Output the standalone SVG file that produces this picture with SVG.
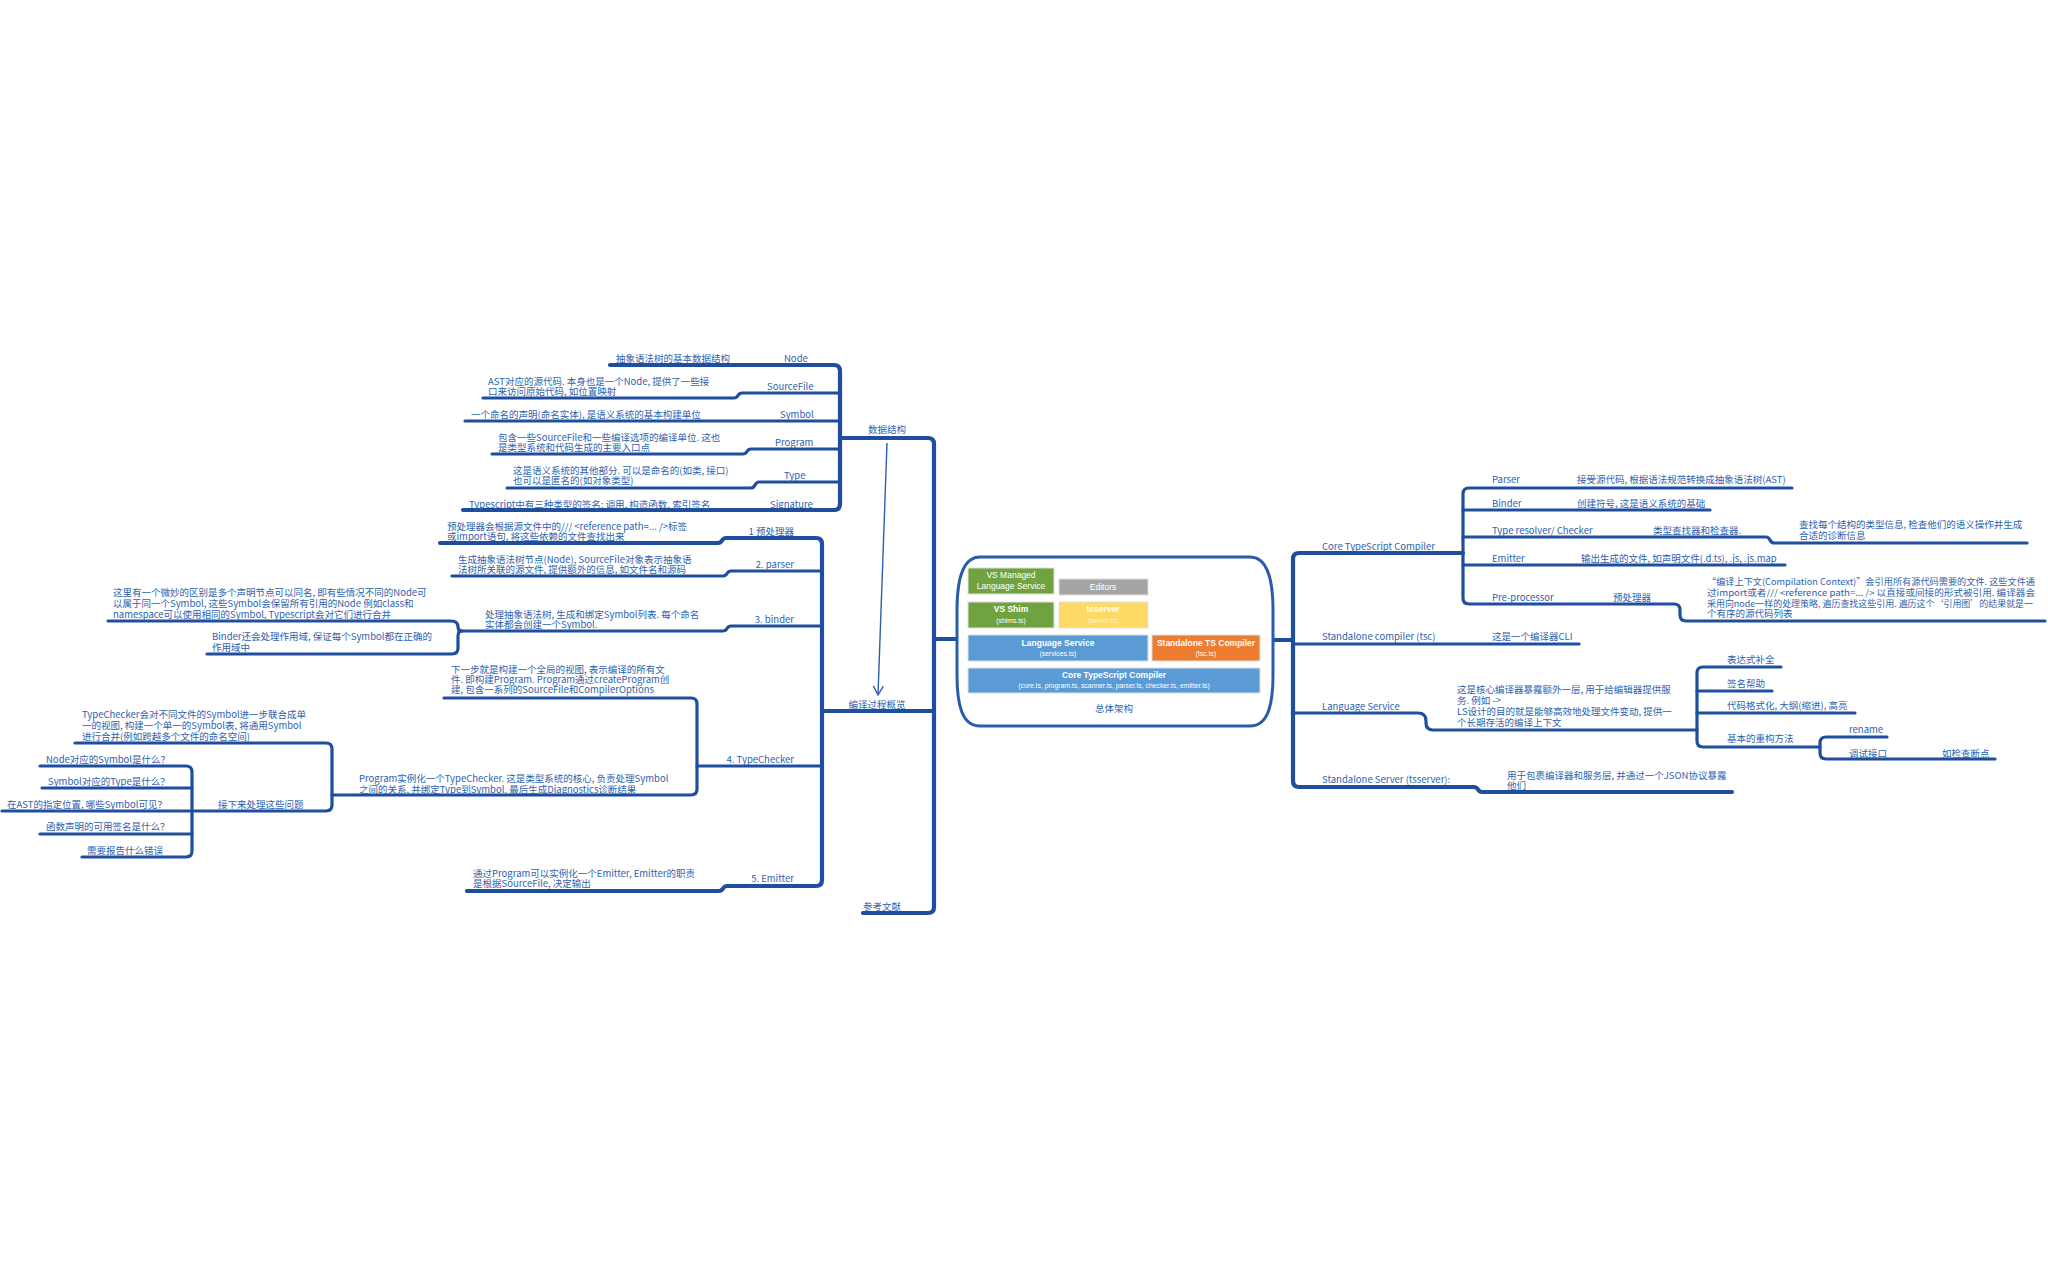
<svg xmlns="http://www.w3.org/2000/svg" width="2048" height="1266" viewBox="0 0 2048 1266">
<defs>
<style>
text{font-family:"Noto Sans CJK SC","Liberation Sans",sans-serif;font-size:9.5px;fill:#2d62ae}
.m{text-anchor:middle}
.e{text-anchor:end}
.sm{font-size:8.8px}
.ln{fill:none;stroke:#1f4e9e;stroke-width:3.2;stroke-linecap:round;stroke-linejoin:round}
.tk{stroke-width:4.2}
.bx text{font-family:"Liberation Sans","Open Sans",sans-serif;fill:#ffffff;text-anchor:middle;font-size:8.5px}
.bx .b{font-weight:bold}
.bx .s{font-size:6.8px}
.bx rect{stroke:#e0e0e0;stroke-width:1}
</style>
<marker id="arr" viewBox="0 0 12 12" refX="11" refY="6" markerWidth="12" markerHeight="12" markerUnits="userSpaceOnUse" orient="auto">
<path d="M2,1 L11,6 L2,11" fill="none" stroke="#2d5fae" stroke-width="1.4"/>
</marker>
</defs>
<rect width="2048" height="1266" fill="#ffffff"/>

<g id="connectors">
<path class="ln tk" d="M957,639 H934"/>
<path class="ln tk" d="M842,438 H928 Q934,438 934,444 V907 Q934,913 928,913 H863"/>
<path class="ln tk" d="M823,711 H934"/>
<path class="ln tk" d="M610,365 H834 Q840,365 840,371 V504 Q840,510 834,510 H463"/>
<path class="ln" d="M483,398 H734 C739,398 737,393 742,393 H840"/>
<path class="ln" d="M465,421 H840"/>
<path class="ln" d="M492,454 H743 C748,454 746,449 751,449 H840"/>
<path class="ln" d="M507,488 H751 C756,488 754,482 759,482 H840"/>
<path class="ln tk" d="M440,543 H718 C723,543 721,538 726,538 H816 Q822,538 822,544 V880 Q822,886 816,886 H727 C722,886 724,891 719,891 H467"/>
<path class="ln" d="M452,576 H723 C728,576 726,571 731,571 H822"/>
<path class="ln" d="M459,631 H723 C728,631 726,626 731,626 H822"/>
<path class="ln" d="M108,621 H451 Q458,621 458,627 Q458,631 462,631 Q458,631 458,636 V648 Q458,654 452,654 H207"/>
<path class="ln" d="M697,766 H822"/>
<path class="ln" d="M444,698 H691 Q697,698 697,704 V789 Q697,795 691,795 H332"/>
<path class="ln" d="M75,743 H326 Q332,743 332,749 V805 Q332,811 326,811 H2"/>
<path class="ln" d="M40,766 H186 Q192,766 192,772 V851 Q192,857 186,857 H82"/>
<path class="ln" d="M42,788 H192"/>
<path class="ln" d="M40,834 H192"/>
<path d="M887,443 L878,695" fill="none" stroke="#2d5fae" stroke-width="1.4" marker-end="url(#arr)"/>
<path class="ln tk" d="M1273,640 H1293"/>
<path class="ln tk" d="M1463,553 H1299 Q1293,553 1293,559 V781 Q1293,787 1299,787 H1474 C1479,787 1477,792 1482,792 H1732"/>
<path class="ln" d="M1293,644 H1579"/>
<path class="ln" d="M1293,713 H1418 Q1426,713 1426,721 V723 Q1426,730 1433,730 H1697"/>
<path class="ln" d="M1781,667 H1703 Q1697,667 1697,673 V741 Q1697,747 1703,747 H1820"/>
<path class="ln" d="M1697,691 H1772"/>
<path class="ln" d="M1697,713 H1855"/>
<path class="ln" d="M1887,737 H1826 Q1820,737 1820,743 V753 Q1820,759 1826,759 H1995"/>
<path class="ln" d="M1792,488 H1469 Q1463,488 1463,494 V598 Q1463,604 1469,604 H1674 Q1680,604 1680,610 V615 Q1680,621 1686,621 H2045"/>
<path class="ln" d="M1463,510 H1710"/>
<path class="ln" d="M1463,537 H1766 C1771,537 1769,543 1774,543 H2027"/>
<path class="ln" d="M1463,565 H1785"/>
</g>

<g id="center">
<path d="M980,557 H1250 C1268,557 1273,580 1273,610 V675 C1273,705 1268,726 1250,726 H980 C962,726 957,705 957,675 V610 C957,580 962,557 980,557 Z" fill="#ffffff" stroke="#2a5caa" stroke-width="3"/>
<g class="bx">
<rect x="968" y="568" width="86" height="26" fill="#70a340"/>
<text x="1011" y="578">VS Managed</text><text x="1011" y="589">Language Service</text>
<rect x="1059" y="579" width="89" height="16" fill="#a5a5a5"/>
<text x="1103" y="590">Editors</text>
<rect x="968" y="602" width="86" height="26" fill="#70a340"/>
<text class="b" x="1011" y="612">VS Shim</text><text class="s" x="1011" y="623">(shims.ts)</text>
<rect x="1059" y="602" width="89" height="26" fill="#ffd966"/>
<text class="b" x="1103" y="612">tsserver</text><text class="s" x="1103" y="623" style="fill:#fff3c4">(server.ts)</text>
<rect x="968" y="635" width="180" height="26" fill="#5b9bd5"/>
<text class="b" x="1058" y="646">Language Service</text><text class="s" x="1058" y="656">(services.ts)</text>
<rect x="1152" y="635" width="108" height="26" fill="#ed7d31"/>
<text class="b" x="1206" y="646">Standalone TS Compiler</text><text class="s" x="1206" y="656">(tsc.ts)</text>
<rect x="968" y="668" width="292" height="25" fill="#5b9bd5"/>
<text class="b" x="1114" y="678">Core TypeScript Compiler</text><text class="s" x="1114" y="688">(core.ts, program.ts, scanner.ts, parser.ts, checker.ts, emitter.ts)</text>
</g>
<text class="m" x="1114" y="712">总体架构</text>
</g>

<g id="n-data"><text class="m" x="887" y="433">数据结构</text></g>
<g id="n-node"><text x="784" y="362">Node</text><text x="616" y="362">抽象语法树的基本数据结构</text></g>
<g id="n-sourcefile"><text x="767" y="390">SourceFile</text><text x="488" y="385">AST对应的源代码. 本身也是一个Node, 提供了一些接</text><text x="488" y="395">口来访问原始代码, 如位置映射</text></g>
<g id="n-symbol"><text x="780" y="418">Symbol</text><text x="471" y="418">一个命名的声明(命名实体), 是语义系统的基本构建单位</text></g>
<g id="n-program"><text x="775" y="446">Program</text><text x="498" y="441">包含一些SourceFile和一些编译选项的编译单位. 这也</text><text x="498" y="451">是类型系统和代码生成的主要入口点</text></g>
<g id="n-type"><text x="784" y="479">Type</text><text x="513" y="474">这是语义系统的其他部分. 可以是命名的(如类, 接口)</text><text x="513" y="484">也可以是匿名的(如对象类型)</text></g>
<g id="n-signature"><text x="770" y="508">Signature</text><text x="469" y="508">Typescript中有三种类型的签名: 调用, 构造函数, 索引签名</text></g>

<g id="n-compile"><text class="m" x="877" y="708">编译过程概览</text></g>
<g id="n-pre"><text class="e" x="794" y="535">1 预处理器</text><text x="447" y="530">预处理器会根据源文件中的/// &lt;reference path=... /&gt;标签</text><text x="447" y="540">或import语句, 将这些依赖的文件查找出来</text></g>
<g id="n-parser"><text class="e" x="794" y="568">2. parser</text><text x="458" y="563">生成抽象语法树节点(Node), SourceFile对象表示抽象语</text><text x="458" y="573">法树所关联的源文件, 提供额外的信息, 如文件名和源码</text></g>
<g id="n-binder"><text class="e" x="794" y="623">3. binder</text><text x="485" y="618">处理抽象语法树, 生成和绑定Symbol列表. 每个命名</text><text x="485" y="628">实体都会创建一个Symbol.</text></g>
<g id="n-binder-a"><text x="113" y="596">这里有一个微妙的区别是多个声明节点可以同名, 即有些情况不同的Node可</text><text x="113" y="607">以属于同一个Symbol, 这些Symbol会保留所有引用的Node 例如class和</text><text x="113" y="618">namespace可以使用相同的Symbol, Typescript会对它们进行合并</text></g>
<g id="n-binder-b"><text x="212" y="640">Binder还会处理作用域, 保证每个Symbol都在正确的</text><text x="212" y="651">作用域中</text></g>
<g id="n-typechecker"><text class="e" x="794" y="763">4. TypeChecker</text></g>
<g id="n-tc-program"><text x="451" y="673">下一步就是构建一个全局的视图, 表示编译的所有文</text><text x="451" y="683">件. 即构建Program. Program通过createProgram创</text><text x="451" y="693">建, 包含一系列的SourceFile和CompilerOptions</text></g>
<g id="n-tc-inst"><text x="359" y="782">Program实例化一个TypeChecker. 这是类型系统的核心, 负责处理Symbol</text><text x="359" y="793">之间的关系, 并绑定Type到Symbol. 最后生成Diagnostics诊断结果</text></g>
<g id="n-tc-merge"><text x="82" y="718">TypeChecker会对不同文件的Symbol进一步联合成单</text><text x="82" y="729">一的视图, 构建一个单一的Symbol表, 将通用Symbol</text><text x="82" y="740">进行合并(例如跨越多个文件的命名空间)</text></g>
<g id="n-tc-next"><text x="218" y="808">接下来处理这些问题</text></g>
<g id="n-q1"><text x="46" y="763">Node对应的Symbol是什么？</text></g>
<g id="n-q2"><text x="48" y="785">Symbol对应的Type是什么？</text></g>
<g id="n-q3"><text x="7" y="808">在AST的指定位置, 哪些Symbol可见？</text></g>
<g id="n-q4"><text x="46" y="830">函数声明的可用签名是什么？</text></g>
<g id="n-q5"><text x="87" y="854">需要报告什么错误</text></g>
<g id="n-emitter"><text class="e" x="794" y="882">5. Emitter</text><text x="473" y="877">通过Program可以实例化一个Emitter, Emitter的职责</text><text x="473" y="887">是根据SourceFile, 决定输出</text></g>
<g id="n-ref"><text class="m" x="882" y="910">参考文献</text></g>

<g id="n-core"><text x="1322" y="550">Core TypeScript Compiler</text></g>
<g id="n-r-parser"><text x="1492" y="483">Parser</text><text x="1577" y="483">接受源代码, 根据语法规范转换成抽象语法树(AST)</text></g>
<g id="n-r-binder"><text x="1492" y="507">Binder</text><text x="1577" y="507">创建符号, 这是语义系统的基础</text></g>
<g id="n-r-checker"><text x="1492" y="534">Type resolver/ Checker</text><text x="1653" y="534">类型查找器和检查器.</text><text x="1799" y="528">查找每个结构的类型信息, 检查他们的语义操作并生成</text><text x="1799" y="539">合适的诊断信息</text></g>
<g id="n-r-emitter"><text x="1492" y="562">Emitter</text><text x="1581" y="562">输出生成的文件, 如声明文件(.d.ts), .js, .js.map</text></g>
<g id="n-r-pre"><text x="1492" y="601">Pre-processor</text><text x="1613" y="601">预处理器</text><text class="sm" x="1707" y="585" textLength="328" lengthAdjust="spacingAndGlyphs">“编译上下文(Compilation Context)”会引用所有源代码需要的文件. 这些文件通</text><text class="sm" x="1707" y="596" textLength="328" lengthAdjust="spacingAndGlyphs">过import或者/// &lt;reference path=... /&gt; 以直接或间接的形式被引用. 编译器会</text><text class="sm" x="1707" y="607" textLength="326" lengthAdjust="spacingAndGlyphs">采用向node一样的处理策略, 遍历查找这些引用. 遍历这个‘引用图’的结果就是一</text><text x="1707" y="617">个有序的源代码列表</text></g>
<g id="n-tsc"><text x="1322" y="640">Standalone compiler (tsc)</text><text x="1492" y="640">这是一个编译器CLI</text></g>
<g id="n-ls"><text x="1322" y="710">Language Service</text><text x="1457" y="693">这是核心编译器暴露额外一层, 用于给编辑器提供服</text><text x="1457" y="704">务. 例如 -&gt;</text><text x="1457" y="715">LS设计的目的就是能够高效地处理文件变动, 提供一</text><text x="1457" y="726">个长期存活的编译上下文</text></g>
<g id="n-ls1"><text x="1727" y="663">表达式补全</text></g>
<g id="n-ls2"><text x="1727" y="687">签名帮助</text></g>
<g id="n-ls3"><text x="1727" y="709">代码格式化, 大纲(缩进), 高亮</text></g>
<g id="n-ls4"><text x="1727" y="742">基本的重构方法</text></g>
<g id="n-rename"><text x="1849" y="733">rename</text></g>
<g id="n-debug"><text x="1849" y="757">调试接口</text><text x="1942" y="757">如检查断点</text></g>
<g id="n-server"><text x="1322" y="783">Standalone Server (tsserver):</text><text x="1507" y="779">用于包裹编译器和服务层, 并通过一个JSON协议暴露</text><text x="1507" y="789">他们</text></g>
</svg>
